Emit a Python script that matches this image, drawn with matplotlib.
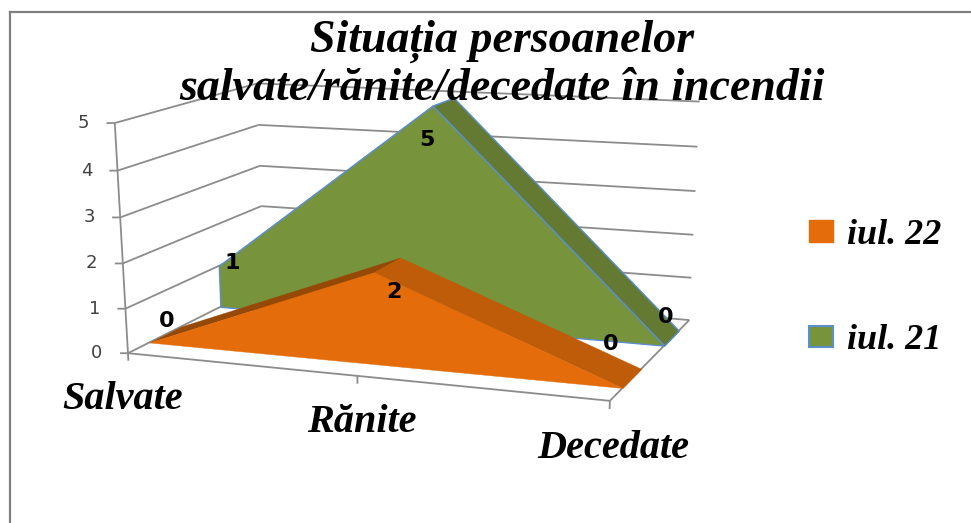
import matplotlib
matplotlib.use('agg')
from matplotlib.lines import Line2D
from matplotlib.patches import Patch
from matplotlib.transforms import offset_copy
from mpl_toolkits.mplot3d.art3d import Line3DCollection, Poly3DCollection
import matplotlib.pyplot as plt
import numpy as np

W, H = 971, 523

categories = ['Salvate', 'Rănite', 'Decedate']
iul_22 = [0, 2, 0]
iul_21 = [1, 5, 0]
value_ticks = [0, 1, 2, 3, 4, 5]
title = 'Situația persoanelor\nsalvate/rănite/decedate în incendii'

# depth slot of each series on the floor (0 = front, 1 = back wall)
depth_22 = (0.14, 0.36)
depth_21 = (0.65, 0.85)

# where the box corners sit in the picture (x, depth, value) -> pixel
corners = [
    ((0, 0, 0), (127, 352)), ((0, 0, 5), (116, 123)),
    ((0, 1, 0), (265, 286)), ((0, 1, 5), (256, 83)),
    ((2, 1, 0), (689, 319)), ((2, 1, 5), (700, 102)),
    ((2, 0, 0), (610, 401)), ((1, 0, 0), (357, 377)),
]

ORANGE = '#E46C0A'
ORANGE_SIDE = '#BF5C09'
ORANGE_DARK = '#964806'
GREEN = '#77933C'
GREEN_SIDE = '#647A32'
BLUE = '#5B8FCB'
GRID = '#8C8C8C'
SERIF = 'Liberation Serif'


def fit_projection(ax):
    # plain DLT, the box in the reference is a 3 point perspective view
    rows = []
    for (x, y, z), (px, py) in corners:
        u, v = ax.transData.inverted().transform((px, H - py))
        rows.append([x, y, z, 1, 0, 0, 0, 0, -u * x, -u * y, -u * z, -u])
        rows.append([0, 0, 0, 0, x, y, z, 1, -v * x, -v * y, -v * z, -v])
    P = np.linalg.svd(np.array(rows))[2][-1].reshape(3, 4)
    if P[2] @ [1, 0.5, 2, 1] < 0:
        P = -P
    return np.vstack([P[0], P[1], [0, 1, 0, 0], P[2]])


def add_poly(ax, pts, color, zorder, edge=None):
    poly = Poly3DCollection([pts], facecolors=color, edgecolors=edge or color,
                            linewidths=1.0 if edge else 0.3, zorder=zorder)
    ax.add_collection3d(poly)
    poly.set_clip_on(False)


def draw_series(ax, values, depth, colors, zorder, edge=None):
    d0, d1 = depth
    x = range(len(values))
    for i in range(len(values) - 1):
        top = [(i, d0, values[i]), (i + 1, d0, values[i + 1]),
               (i + 1, d1, values[i + 1]), (i, d1, values[i])]
        add_poly(ax, top, colors[1] if values[i + 1] > values[i] else colors[2], zorder, edge)
    front = [(i, d0, values[i]) for i in x] + [(x[-1], d0, 0), (0, d0, 0)]
    add_poly(ax, front, colors[0], zorder + 1, edge)


fig = plt.figure(figsize=(W / 100, H / 100), dpi=100, facecolor='white')
ax = fig.add_axes([0, 0, 1, 1], projection='3d')
ax.set_axis_off()
ax.patch.set_visible(False)
ax.computed_zorder = False
ax.apply_aspect()
M = fit_projection(ax)
ax.get_proj = lambda: M

# walls
last = len(categories) - 1
segs = []
for v in value_ticks:
    segs.append([(0, 0, v), (0, 1, v)])
    segs.append([(0, 1, v), (last, 1, v)])
    segs.append([(0, 0, v), (-0.03, -0.0085, v)])
segs.append([(0, 0, 0), (0, 0, value_ticks[-1])])
segs.append([(0, 0, 0), (last, 0, 0)])
segs.append([(last, 0, 0), (last, 1, 0)])
for i in range(len(categories)):
    segs.append([(i, 0, 0), (i, 0, -0.17)])
walls = Line3DCollection(segs, colors=GRID, linewidths=1.3, zorder=1)
ax.add_collection3d(walls)
walls.set_clip_on(False)

draw_series(ax, iul_21, depth_21, (GREEN, GREEN, GREEN_SIDE), 3, edge=BLUE)
draw_series(ax, iul_22, depth_22, (ORANGE, ORANGE_DARK, ORANGE_SIDE), 5)

# axis labels
for v in value_ticks:
    ax.text(0, 0, v, str(v), ha='center', va='center', fontsize=13, color='#404040',
            family='DejaVu Sans', zorder=8,
            transform=offset_copy(ax.transData, fig=fig, x=-31, y=0, units='dots'))
cat_dx = [-5, 4, 3]
cat_dy = [-46, -47, -48]
for i, name in enumerate(categories):
    ax.text(i, 0, 0, name, ha='center', va='center', fontsize=29, style='italic', family=SERIF,
            fontweight='bold', color='black', zorder=8,
            transform=offset_copy(ax.transData, fig=fig, x=cat_dx[i], y=cat_dy[i], units='dots'))

# data labels, offsets in pixels from the middle of the series top
label_22_off = [(1, 13), (7, -27), (-21, 34)]
label_21_off = [(1, -3), (-16, -38), (-6, 21)]
for values, depth, offs in ((iul_22, depth_22, label_22_off), (iul_21, depth_21, label_21_off)):
    for i, v in enumerate(values):
        ax.text(i, sum(depth) / 2, v, str(v), ha='center', va='center', fontsize=16,
                fontweight='bold', family='DejaVu Sans', color='black', zorder=9,
                transform=offset_copy(ax.transData, fig=fig, x=offs[i][0], y=offs[i][1], units='dots'))

fig.text(502 / W, 1 - 65 / H, title, ha='center', va='center', fontsize=33, style='italic',
         family=SERIF, fontweight='bold', linespacing=1.15, color='black', zorder=10)

handles = [Patch(facecolor=ORANGE, edgecolor=ORANGE), Patch(facecolor=GREEN, edgecolor=BLUE, lw=1.5)]
fig.legend(handles, ['iul. 22', 'iul. 21'], loc='center left', bbox_to_anchor=(776 / W, 1 - 288 / H),
           frameon=False, prop={'family': SERIF, 'style': 'italic', 'weight': 'bold', 'size': 26},
           labelspacing=2.0, handlelength=0.67, handleheight=0.53, handletextpad=0.39)

# chart frame, the right and bottom sides are cut off in the reference
for xs, ys in (((10, W), (12, 12)), ((10, 10), (12, H))):
    fig.add_artist(Line2D(np.array(xs) / W, 1 - np.array(ys) / H, color='#808080', lw=1.6))

plt.savefig('out.png', dpi=100)
